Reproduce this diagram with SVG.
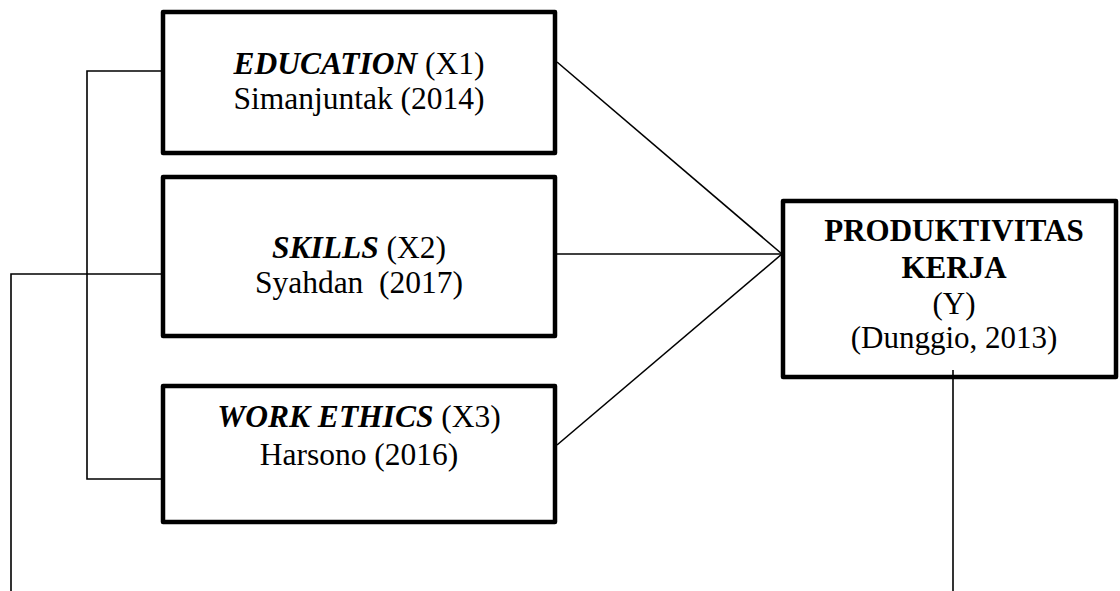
<svg xmlns="http://www.w3.org/2000/svg" width="1120" height="591" viewBox="0 0 1120 591">
<style>
.box{fill:#fff;stroke:#000;stroke-width:4.5;stroke-linejoin:round}
.ln{fill:none;stroke:#000;stroke-width:1.6}
text{font-family:"Liberation Serif","Times New Roman",serif;font-size:31.5px;fill:#000;text-anchor:middle}
.bi{font-weight:bold;font-style:italic}
.b{font-weight:bold}
</style>
<rect width="1120" height="591" fill="#fff"/>
<g id="education">
<rect class="box" x="163" y="12" width="392" height="141"/>
<text x="359" y="74"><tspan class="bi">EDUCATION</tspan> (X1)</text>
<text x="359" y="109">Simanjuntak (2014)</text>
</g>
<g id="skills">
<rect class="box" x="163" y="177" width="392" height="159"/>
<text x="359" y="258"><tspan class="bi">SKILLS</tspan> (X2)</text>
<text x="359" y="293" xml:space="preserve">Syahdan  (2017)</text>
</g>
<g id="workethics">
<rect class="box" x="163" y="386" width="392" height="136"/>
<text x="359" y="427"><tspan class="bi">WORK ETHICS</tspan> (X3)</text>
<text x="359" y="465">Harsono (2016)</text>
</g>
<g id="produktivitas">
<rect class="box" x="783" y="201" width="333" height="176"/>
<text class="b" x="954" y="241" style="font-size:31px">PRODUKTIVITAS</text>
<text class="b" x="954" y="278" style="font-size:31px">KERJA</text>
<text x="954" y="314" style="font-size:31px">(Y)</text>
<text x="954" y="348" style="font-size:31px">(Dunggio, 2013)</text>
</g>
<g id="connectors">
<path class="ln" d="M161,71 H87 V479 H161"/>
<path class="ln" d="M161,274 H11 V591"/>
<path class="ln" d="M557,62 L782,254"/>
<path class="ln" d="M557,254 L782,254"/>
<path class="ln" d="M557,445 L782,254"/>
<path class="ln" d="M953,370 V591"/>
</g>
</svg>
